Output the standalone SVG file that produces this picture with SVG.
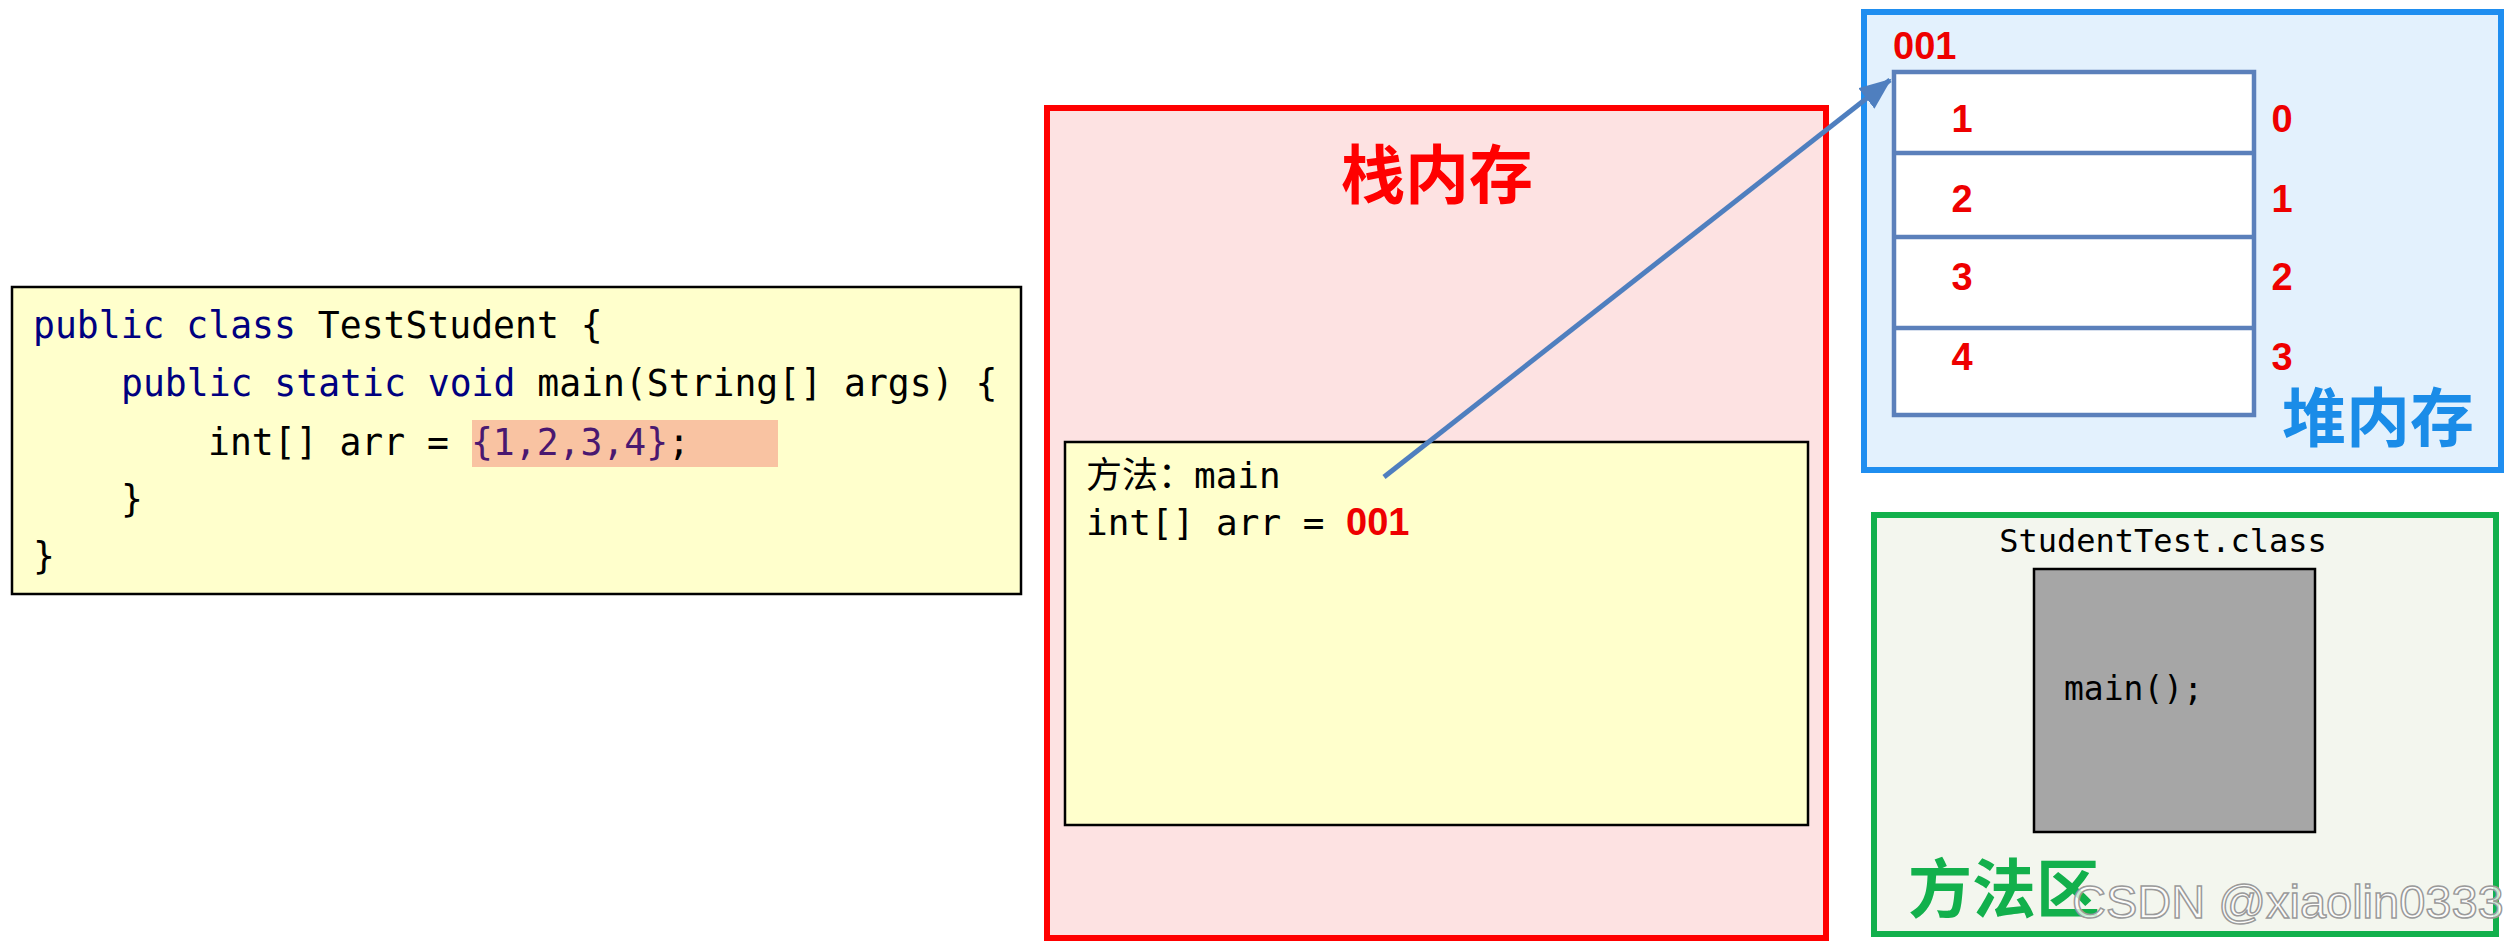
<svg xmlns="http://www.w3.org/2000/svg" width="2514" height="945" viewBox="0 0 2514 945">
<style>
.mono{font-family:"DejaVu Sans Mono","Liberation Mono","Noto Sans CJK SC",monospace;}
.code{font-size:36.4px;fill:#000;}
.kw{fill:#000080;}
.lit{fill:#4a1870;}
.num{font-family:"Liberation Sans","Noto Sans CJK SC",sans-serif;font-weight:bold;fill:#ee0000;font-size:38px;}
.title{font-family:"Noto Sans CJK SC","Liberation Sans",sans-serif;font-weight:bold;font-size:64px;}
.yellow{fill:#ffffcc;stroke:#000;stroke-width:2.5;}
</style>
<defs>
<marker id="arrow" markerUnits="userSpaceOnUse" markerWidth="36" markerHeight="30" refX="30" refY="13" orient="auto">
<path d="M0,0 L32,13 L0,26 Z" fill="#4f7fbf"/>
</marker>
</defs>
<rect x="0" y="0" width="2514" height="945" fill="#ffffff"/>

<g id="code">
<rect x="12" y="287" width="1009" height="307" class="yellow"/>
<rect x="472" y="420" width="306" height="47" fill="#f9c3a2"/>
<text class="mono code" x="33" y="338"><tspan class="kw">public class</tspan> TestStudent {</text>
<text class="mono code" x="121" y="396"><tspan class="kw">public static void</tspan> main(String[] args) {</text>
<text class="mono code" x="208" y="455">int[] arr = <tspan class="lit">{1,2,3,4}</tspan>;</text>
<text class="mono code" x="121" y="512">}</text>
<text class="mono code" x="33" y="569">}</text>
</g>

<g id="stack">
<rect x="1047" y="108" width="779" height="830" fill="#fde2e2" stroke="#ff0000" stroke-width="6"/>
<text class="title" x="1437" y="198" text-anchor="middle" fill="#ff0000">栈内存</text>
</g>

<g id="frame">
<rect x="1065" y="442" width="743" height="383" class="yellow"/>
<text class="mono" x="1086" y="488" font-size="36" fill="#000">方法：main</text>
<text class="mono" x="1086" y="535" font-size="36" fill="#000">int[] arr =</text>
<text class="num" x="1346" y="535">001</text>
</g>

<g id="heap">
<rect x="1864" y="12" width="637" height="458" fill="#e3f1fd" stroke="#1f8ef0" stroke-width="6"/>
<text class="num" x="1893" y="59">001</text>
<text class="title" x="2378" y="441" text-anchor="middle" fill="#1a8ce8">堆内存</text>
</g>

<g id="array">
<rect x="1894" y="72" width="360" height="343" fill="#ffffff" stroke="#5b80bb" stroke-width="4.5"/>
<line x1="1894" y1="153" x2="2254" y2="153" stroke="#5b80bb" stroke-width="4.5"/>
<line x1="1894" y1="237" x2="2254" y2="237" stroke="#5b80bb" stroke-width="4.5"/>
<line x1="1894" y1="328" x2="2254" y2="328" stroke="#5b80bb" stroke-width="4.5"/>
<text class="num" x="1962" y="132" text-anchor="middle">1</text>
<text class="num" x="1962" y="212" text-anchor="middle">2</text>
<text class="num" x="1962" y="290" text-anchor="middle">3</text>
<text class="num" x="1962" y="370" text-anchor="middle">4</text>
<text class="num" x="2282" y="132" text-anchor="middle">0</text>
<text class="num" x="2282" y="212" text-anchor="middle">1</text>
<text class="num" x="2282" y="290" text-anchor="middle">2</text>
<text class="num" x="2282" y="370" text-anchor="middle">3</text>
</g>

<g id="method-area">
<rect x="1874" y="515" width="622" height="419" fill="#f3f6ee" stroke="#12b04c" stroke-width="6"/>
<text class="mono" x="2163" y="552" font-size="32" text-anchor="middle" fill="#000">StudentTest.class</text>
<text class="title" x="1908" y="912" fill="#12b04c">方法区</text>
</g>

<g id="class-block">
<rect x="2034" y="569" width="281" height="263" fill="#a6a6a6" stroke="#000" stroke-width="2.5"/>
<text class="mono" x="2064" y="700" font-size="33" fill="#000">main();</text>
</g>

<g id="connectors">
<line x1="1384" y1="477" x2="1890" y2="80" stroke="#4f7fbf" stroke-width="5" marker-end="url(#arrow)"/>
</g>

<text x="2072" y="918" font-family="Liberation Sans, sans-serif" font-size="47" fill="#ffffff" fill-opacity="0.75" stroke="#9a9a9a" stroke-width="1.5">CSDN @xiaolin0333</text>
</svg>
